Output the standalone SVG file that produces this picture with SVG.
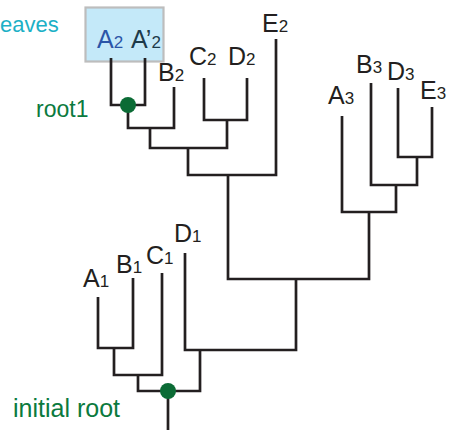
<svg xmlns="http://www.w3.org/2000/svg" width="462" height="436" viewBox="0 0 462 436">
<style>
.ln{fill:none;stroke:#231f20;stroke-width:2.7;stroke-linecap:butt;stroke-linejoin:miter}
.lb{font-family:"Liberation Sans",Arial,sans-serif;font-size:25px;fill:#231f20}
.sub{font-size:17px}
.gr{font-family:"Liberation Sans",Arial,sans-serif;fill:#0b7a3e}
.dot{fill:#0b6b35}
</style>
<rect width="462" height="436" fill="#ffffff"/>
<g id="leaves-box">
<rect x="85.5" y="7.5" width="78" height="54" fill="#c4e9f9" stroke="#bdbdbd" stroke-width="2.2"/>
</g>
<g id="leaves-label"><text x="0" y="32" font-family="Liberation Sans,Arial,sans-serif" font-size="22" fill="#1cb0c6">eaves</text></g>
<g id="connectors">
<path class="ln" d="M111,58 V105 H145 V58"/>
<path class="ln" d="M128,105 V128 H174 V87"/>
<path class="ln" d="M204,78 V120 H247 V78"/>
<path class="ln" d="M150,128 V148 H227 V120"/>
<path class="ln" d="M188,148 V175 H276 V39"/>
<path class="ln" d="M228,175 V279 H369 V212"/>
<path class="ln" d="M398,88 V157 H432 V107"/>
<path class="ln" d="M371,83 V185 H417 V157"/>
<path class="ln" d="M342,116 V212 H396 V185"/>
<path class="ln" d="M98,297 V348 H133 V278"/>
<path class="ln" d="M114,348 V375 H162 V273"/>
<path class="ln" d="M185,253 V350 H296 V279"/>
<path class="ln" d="M138,375 V391 H200 V350"/>
<path class="ln" d="M168,391 V430"/>
</g>
<g id="root1"><circle class="dot" cx="128" cy="105" r="8"/><text class="gr" x="36" y="117" font-size="23">root1</text></g>
<g id="initial-root"><circle class="dot" cx="168" cy="391" r="8"/><text class="gr" x="13" y="417" font-size="25">initial root</text></g>
<g id="A2"><text class="lb" x="97" y="48" style="fill:#2b55a8">A<tspan class="sub">2</tspan></text></g>
<g id="A2p"><text class="lb" x="131" y="48" style="fill:#1d3a4a">A’<tspan class="sub">2</tspan></text></g>
<g id="B2"><text class="lb" x="158" y="81">B<tspan class="sub">2</tspan></text></g>
<g id="C2"><text class="lb" x="189" y="65">C<tspan class="sub">2</tspan></text></g>
<g id="D2"><text class="lb" x="228" y="65">D<tspan class="sub">2</tspan></text></g>
<g id="E2"><text class="lb" x="262" y="32">E<tspan class="sub">2</tspan></text></g>
<g id="A3"><text class="lb" x="328" y="104">A<tspan class="sub">3</tspan></text></g>
<g id="B3"><text class="lb" x="356" y="73">B<tspan class="sub">3</tspan></text></g>
<g id="D3"><text class="lb" x="387" y="80">D<tspan class="sub">3</tspan></text></g>
<g id="E3"><text class="lb" x="420" y="99">E<tspan class="sub">3</tspan></text></g>
<g id="A1"><text class="lb" x="83" y="287">A<tspan class="sub">1</tspan></text></g>
<g id="B1"><text class="lb" x="116" y="273">B<tspan class="sub">1</tspan></text></g>
<g id="C1"><text class="lb" x="146" y="264">C<tspan class="sub">1</tspan></text></g>
<g id="D1"><text class="lb" x="174" y="242">D<tspan class="sub">1</tspan></text></g>
</svg>
